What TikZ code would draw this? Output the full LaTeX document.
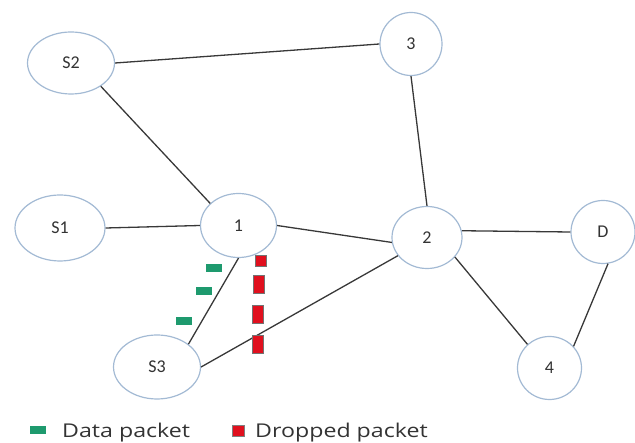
\documentclass[tikz,border=0pt]{standalone}
\usepackage{fontspec}
\setmainfont{Carlito}
\newfontfamily\keyfont{Open Sans}
\usetikzlibrary{shapes.geometric}
\definecolor{ringblue}{HTML}{A3BAD4}
\definecolor{datagreen}{HTML}{1E9A6E}
\definecolor{dropred}{HTML}{E0101E}
\newcommand{\keylabel}[1]{\scalebox{1.22}[1]{#1}}

\begin{document}
\begin{tikzpicture}[
        x=1pt, y=-1pt,
        station/.style={ellipse, draw=ringblue, line width=1.2pt, fill=white, inner sep=0pt, text=black!80, font=\fontsize{18}{20}\selectfont},
        link/.style={draw=black!78, line width=1.3pt},
        datapkt/.style={fill=datagreen, minimum width=16pt, minimum height=8pt, inner sep=0pt},
        droppkt/.style={fill=dropred, draw=black!55, line width=0.7pt, minimum width=11pt, inner sep=0pt},
        keytext/.style={anchor=base west, inner sep=0pt, text=black!80, font=\keyfont\fontsize{19}{21}\selectfont}
    ]
    \useasboundingbox (0,0) rectangle (635,443);
    % Stations
    \node[station, minimum width=87pt, minimum height=62pt] (s2) at (71,63) {S2};
    \node[station, minimum width=62pt, minimum height=63pt] (n3) at (411,44) {3};
    \node[station, minimum width=90pt, minimum height=66pt] (s1) at (60,228) {S1};
    \node[station, minimum width=76pt, minimum height=64pt] (n1) at (238.5,225.5) {1};
    \node[station, minimum width=70pt, minimum height=62pt] (n2) at (427,237.5) {2};
    \node[station, minimum width=64pt, minimum height=63pt] (d) at (603,232) {D};
    \node[station, minimum width=87pt, minimum height=64pt] (s3) at (157,367) {S3};
    \node[station, minimum width=64pt, minimum height=63pt] (n4) at (549.5,368) {4};
    
    % Links
    \draw[link] (s2.east) -- (n3.west); \draw[link] (s2.-38) -- (n1.142);
    \draw[link] (s1.east) -- (n1.west); \draw[link] (n1.east) -- (n2.-172);
    \draw[link] (n3.south) -- (n2.north); \draw[link] (n2.11) -- (d.west);
    \draw[link] (n2.-35) -- (n4.133); \draw[link] (d.-81) -- (n4.42);
    \draw[link] (n1.south) -- (s3.36); \draw[link] (s3.east) -- (n2.-148);
    
    % Packets
    \node[datapkt] (g1) at (214,268) {};
    \node[datapkt] (g2) at (203.5,291) {};
    \node[datapkt] (g3) at (183.5,321) {};
    \node[droppkt, minimum height=11pt] (r1) at (261,260.5) {};
    \node[droppkt, minimum height=18pt] (r2) at (259,284) {};
    \node[droppkt, minimum height=18pt] (r3) at (258,314) {};
    \node[droppkt, minimum height=18pt] (r4) at (257.5,344) {};
    
    % Legend
    \node[datapkt] (keyg) at (37.5,430) {};
    \node[keytext] (keygtext) at (62,438) {\keylabel{Data packet}};
    \node[fill=dropred, draw=black!50, line width=0.6pt, minimum width=12pt, minimum height=11pt, inner sep=0pt] (keyr) at (238.5,431) {};
    \node[keytext] (keyrtext) at (255,438) {\keylabel{Dropped packet}};
\end{tikzpicture}
\end{document}
